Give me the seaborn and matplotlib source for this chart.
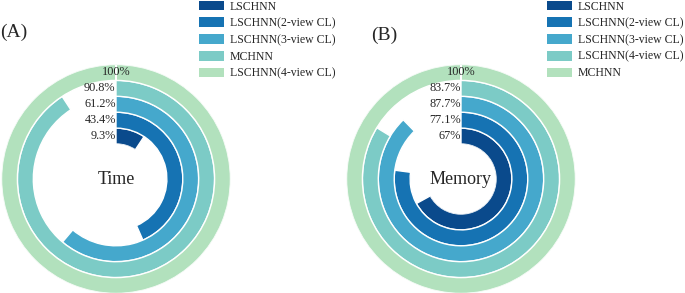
import numpy as np
import seaborn as sns
import matplotlib.pyplot as plt
from matplotlib.patches import Patch

# data (inner ring -> outer ring)
time_models = ["LSCHNN", "LSCHNN(2-view CL)", "LSCHNN(3-view CL)", "MCHNN", "LSCHNN(4-view CL)"]
time_values = [9.3, 43.4, 61.2, 90.8, 100]
time_text = ["9.3%", "43.4%", "61.2%", "90.8%", "100%"]

memory_models = ["LSCHNN", "LSCHNN(2-view CL)", "LSCHNN(3-view CL)", "LSCHNN(4-view CL)", "MCHNN"]
memory_values = [67, 77.1, 87.7, 83.7, 100]
memory_text = ["67%", "77.1%", "87.7%", "83.7%", "100%"]

ring_colors = ["#0a4a8c", "#1673b3", "#45a8cc", "#7ccbc6", "#b2e1bd"]

sns.set_style("white")
plt.rcParams['font.family'] = ['Liberation Serif', 'DejaVu Serif']

fig = plt.figure(figsize=(6.85, 2.93), dpi=100)
pal = sns.color_palette(ring_colors)


def ring_chart(rect, values, texts, center_label):
    ax = fig.add_axes(rect, projection='polar')
    ax.set_theta_zero_location('N')
    ax.set_theta_direction(-1)
    pos = np.arange(len(values)) + 0.5
    ax.barh(pos, np.deg2rad(np.array(values) * 3.6), height=1, left=0,
            color=pal, edgecolor='white', linewidth=1.0)
    ax.set_rlim(0, 5)
    ax.set_rorigin(-2.2)
    ax.axis('off')
    for i, t in enumerate(texts):
        if i == len(texts) - 1:
            ax.text(0, pos[i], t, ha='center', va='center', fontsize=8.8)
        else:
            ax.text(-0.005, pos[i], t, ha='right', va='center', fontsize=8.8)
    ax.text(0.5, 0.5, center_label, transform=ax.transAxes, ha='center',
            va='center', fontsize=13)
    return ax


W, H = 685, 293
R = 114.5
ring_chart([(116 - R) / W, (H - 179 - R) / H, 2 * R / W, 2 * R / H],
           time_values, time_text, "Time")
ring_chart([(461 - R) / W, (H - 179 - R) / H, 2 * R / W, 2 * R / H],
           memory_values, memory_text, "Memory")

# legends
for models, x0 in [(time_models, 199), (memory_models, 547)]:
    handles = [Patch(facecolor=c, edgecolor='none') for c in ring_colors]
    fig.legend(handles, models, loc='upper left', bbox_to_anchor=(x0 / W, 0.998),
               frameon=False, fontsize=8.5, handlelength=2.1, handleheight=0.9,
               handletextpad=0.5, labelspacing=0.4, borderpad=0, borderaxespad=0)

fig.text(0 / W, 1 - 32 / H, "(A)", ha='left', va='center', fontsize=14)
fig.text(371 / W, 1 - 35 / H, "(B)", ha='left', va='center', fontsize=14)

fig.savefig("out.png", dpi=100)
